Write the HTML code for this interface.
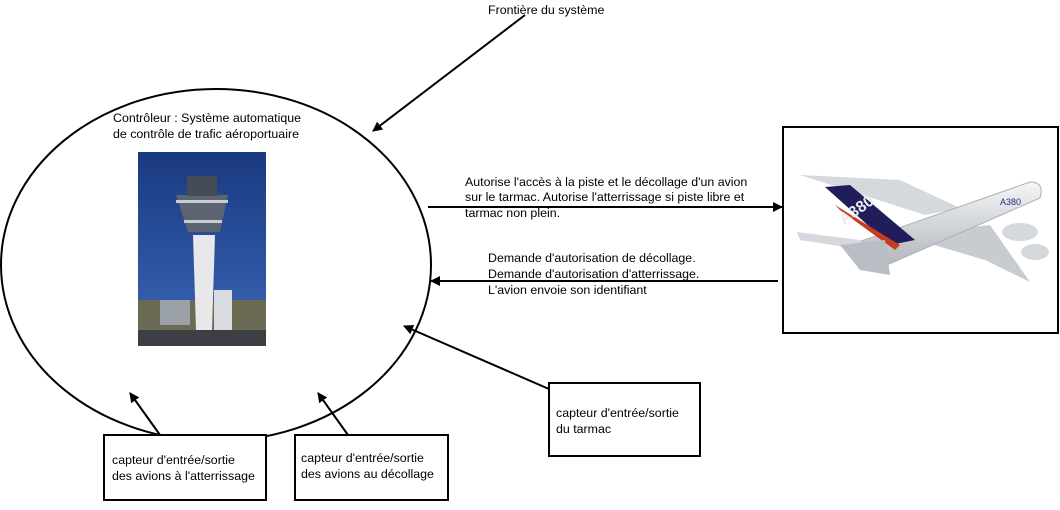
<!DOCTYPE html>
<html><head><meta charset="utf-8"><style>
body{margin:0;background:#fff;}
svg text{font-family:"Liberation Sans",sans-serif;font-size:12.4px;fill:#000;}
</style></head><body>
<svg width="1060" height="505" xmlns="http://www.w3.org/2000/svg">
<defs>
<marker id="a" markerWidth="10" markerHeight="10" refX="9" refY="5" orient="auto" markerUnits="userSpaceOnUse">
<path d="M0,0 L10,5 L0,10 z" fill="#000"/></marker>
<linearGradient id="sky" x1="0" y1="0" x2="0" y2="1"><stop offset="0" stop-color="#1a3a80"/><stop offset="1" stop-color="#3a66b8"/></linearGradient>
<linearGradient id="fus" x1="0" y1="0" x2="0" y2="1"><stop offset="0" stop-color="#f4f5f6"/><stop offset="1" stop-color="#b0b5bb"/></linearGradient>
</defs>
<ellipse cx="216" cy="265" rx="215" ry="176" fill="none" stroke="#000" stroke-width="2"/>
<text x="113" y="122">Contrôleur : Système automatique</text>
<text x="113" y="138">de contrôle de trafic aéroportuaire</text>
<!-- tower -->
<rect x="138" y="152" width="128" height="194" fill="url(#sky)"/>
<rect x="138" y="300" width="128" height="46" fill="#6b6a55"/>
<rect x="138" y="330" width="128" height="16" fill="#3d3f45"/>
<path d="M193,235 L215,235 L212,330 L196,330 Z" fill="#e8e8ea"/>
<path d="M176,195 L228,195 L220,232 L188,232 Z" fill="#5b6470"/>
<rect x="187" y="176" width="30" height="20" fill="#444c56"/>
<rect x="176" y="200" width="52" height="3" fill="#c9ccd0"/>
<rect x="184" y="220" width="38" height="3" fill="#c9ccd0"/>
<rect x="214" y="290" width="18" height="40" fill="#d8dbe0"/>
<rect x="160" y="300" width="30" height="25" fill="#9aa0a8"/>
<!-- plane box -->
<rect x="783" y="127" width="275" height="206" fill="#fff" stroke="#000" stroke-width="2"/>
<path d="M800,175 L900,180 L960,208 L925,215 Z" fill="#d5d8dc"/>
<path d="M900,235 L990,225 L1030,282 L985,260 Z" fill="#c8ccd0"/>
<path d="M850,245 L1030,182 Q1045,182 1040,198 L880,268 Z" fill="url(#fus)" stroke="#aab0b6"/>
<path d="M825,187 L850,185 L915,240 L890,245 Z" fill="#1f1d5a"/>
<path d="M835,205 L900,245 L895,250 L840,210 Z" fill="#c93a22"/>
<path d="M797,232 L860,240 L865,250 L800,240 Z" fill="#d5d8dc"/>
<path d="M840,245 L885,240 L890,275 L860,270 Z" fill="#b9bec4"/>
<ellipse cx="1020" cy="232" rx="18" ry="9" fill="#d5d8dc"/>
<ellipse cx="1035" cy="252" rx="14" ry="8" fill="#d5d8dc"/>
<text x="1000" y="205" style="font-size:9px;fill:#2a2a7a">A380</text>
<text x="838" y="213" transform="rotate(-35 860 210)" style="font-size:16px;font-weight:bold;fill:#e8e8ee">A380</text>
<!-- arrows -->
<line x1="525" y1="15" x2="373" y2="131" stroke="#000" stroke-width="2" marker-end="url(#a)"/>
<text x="488" y="14">Frontière du système</text>
<line x1="428" y1="207" x2="782" y2="207" stroke="#000" stroke-width="2" marker-end="url(#a)"/>
<text x="465" y="186">Autorise l'accès à la piste et le décollage d'un avion</text>
<text x="465" y="201">sur le tarmac. Autorise l'atterrissage si piste libre et</text>
<text x="465" y="217">tarmac non plein.</text>
<line x1="778" y1="281" x2="431" y2="281" stroke="#000" stroke-width="2" marker-end="url(#a)"/>
<text x="488" y="262">Demande d'autorisation de décollage.</text>
<text x="488" y="278">Demande d'autorisation d'atterrissage.</text>
<text x="488" y="294">L'avion envoie son identifiant</text>
<line x1="549" y1="389" x2="404" y2="326" stroke="#000" stroke-width="2" marker-end="url(#a)"/>
<rect x="549" y="383" width="151" height="73" fill="#fff" stroke="#000" stroke-width="2"/>
<text x="556" y="417">capteur d'entrée/sortie</text>
<text x="556" y="433">du tarmac</text>
<line x1="160" y1="435" x2="130" y2="393" stroke="#000" stroke-width="2" marker-end="url(#a)"/>
<rect x="104" y="435" width="162" height="65" fill="#fff" stroke="#000" stroke-width="2"/>
<text x="112" y="464">capteur d'entrée/sortie</text>
<text x="112" y="480">des avions à l'atterrissage</text>
<line x1="348" y1="435" x2="318" y2="393" stroke="#000" stroke-width="2" marker-end="url(#a)"/>
<rect x="295" y="435" width="153" height="65" fill="#fff" stroke="#000" stroke-width="2"/>
<text x="301" y="462">capteur d'entrée/sortie</text>
<text x="301" y="478">des avions au décollage</text>
</svg>
</body></html>
